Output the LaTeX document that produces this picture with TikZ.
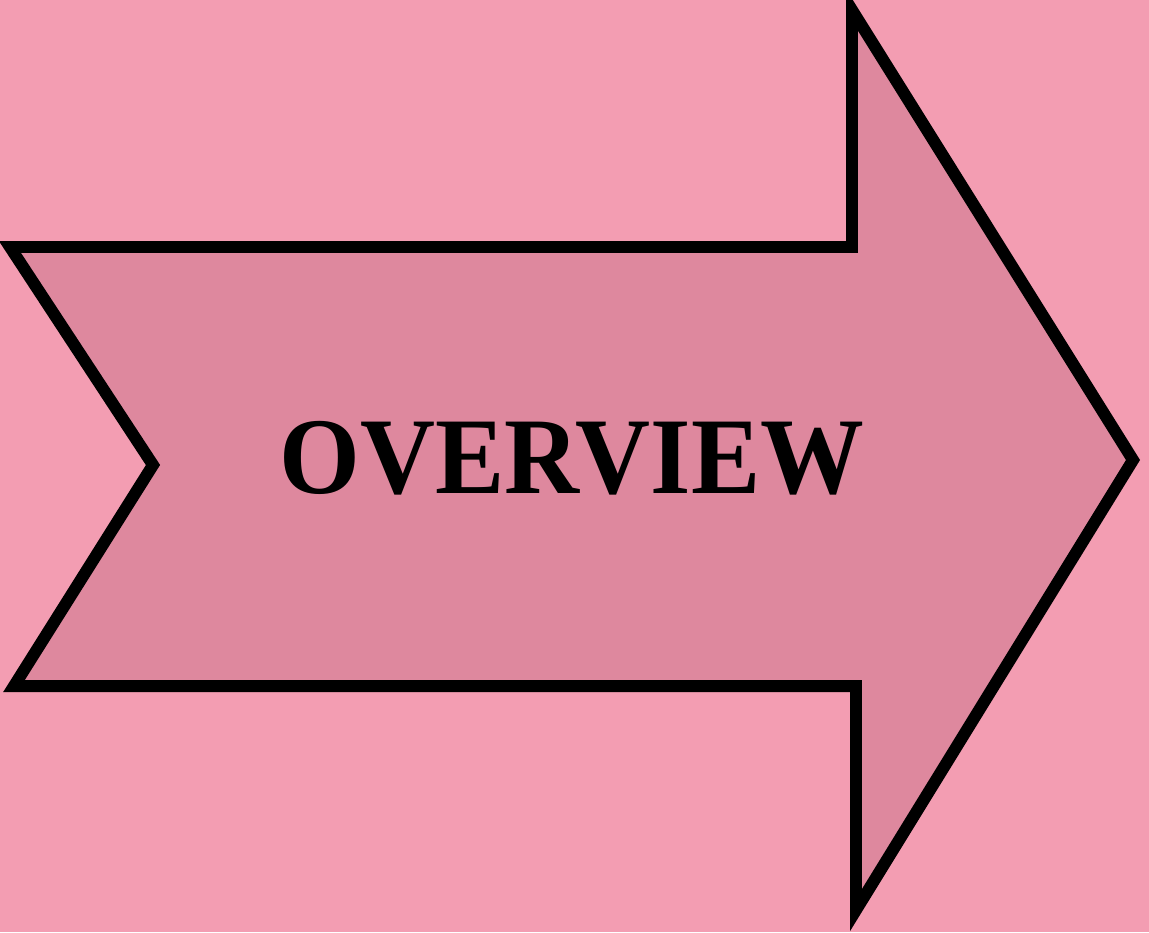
\documentclass[tikz,border=0pt]{standalone}
\usepackage{fontspec}
\setmainfont{Liberation Serif}
\usepackage{xcolor}
\usepackage{tikz}
\usetikzlibrary{calc}

\definecolor{paperpink}{RGB}{243,157,178}
\definecolor{arrowpink}{RGB}{222,136,158}

\begin{document}
\begin{tikzpicture}[
  x=0.01cm, y=-0.01cm,
  bigarrow/.style={draw=black, fill=arrowpink, line width=3.4pt, line join=miter},
  title/.style={font=\bfseries\fontsize{31}{36}\selectfont, text=black, inner sep=0pt, anchor=base, xscale=0.952}
]
% Background sheet
\fill[paperpink] (0,0) rectangle (1149,932);
\useasboundingbox (0,0) rectangle (1149,932);

% Notched arrow
\coordinate (tl) at (10,247);
\coordinate (notch) at (153,465);
\coordinate (bl) at (14,686);
\coordinate (headtop) at (852,10);
\coordinate (tip) at (1133,460);
\coordinate (headbot) at (856,910);
\draw[bigarrow] (tl) -- (852,247) -- (headtop) -- (tip) -- (headbot)
  -- (856,686) -- (bl) -- (notch) -- cycle;

% Label
\node[title] (ovw) at (572,493) {OVERVIEW};
\end{tikzpicture}
\end{document}
